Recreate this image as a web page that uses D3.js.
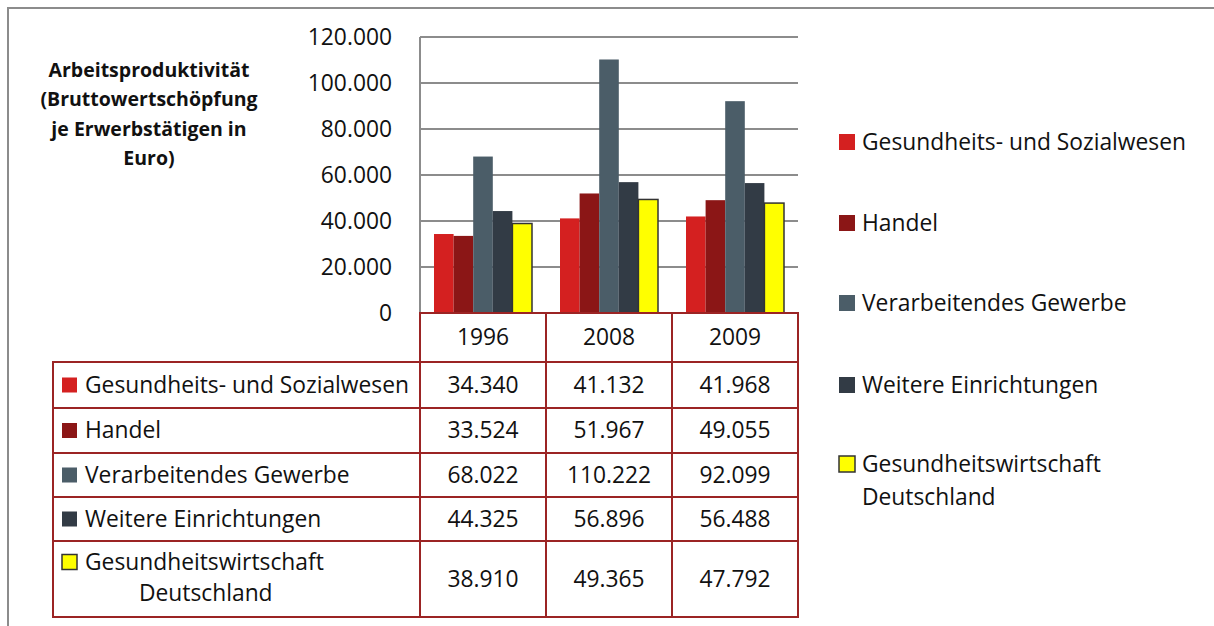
<!DOCTYPE html>
<html>
<head>
<meta charset="utf-8">
<script src="https://cdn.jsdelivr.net/npm/d3@7"></script>
<style>
  body { margin: 0; background: #fff; }
  text { font-family: "Open Sans", Lato, sans-serif; fill: #111; }
</style>
</head>
<body>
<div id="chart"></div>
<script>
// data
var years = ["1996", "2008", "2009"];
var seriesNames = ["Gesundheits- und Sozialwesen", "Handel", "Verarbeitendes Gewerbe",
                   "Weitere Einrichtungen", "Gesundheitswirtschaft Deutschland"];
var gesundheit = [34340, 41132, 41968];
var handel = [33524, 51967, 49055];
var verarbeitend = [68022, 110222, 92099];
var weitere = [44325, 56896, 56488];
var gwDeutschland = [38910, 49365, 47792];
var yTicks = [0, 20000, 40000, 60000, 80000, 100000, 120000];
var titleLines = ["Arbeitsproduktivität", "(Bruttowertschöpfung", "je Erwerbstätigen in", "Euro)"];

var values = [gesundheit, handel, verarbeitend, weitere, gwDeutschland];
var colors = ["#d42020", "#8b1616", "#4b5d68", "#323b45", "#ffff00"];
var strokes = [null, null, null, null, "#333"];

var W = 1214, H = 626;
var plot = {left: 420, right: 798, top: 37, bottom: 313};
var tableRed = "#9b2424";
var grid = "#8c8c8c";
var fs = 22.8;

var fmt = function(v) { return d3.format(",")(v).replace(/,/g, "."); };

var svg = d3.select("#chart").append("svg")
    .attr("width", W).attr("height", H);

// outer frame (only top and left visible)
svg.append("path")
    .attr("d", "M8,626 L8,8 L1214,8")
    .attr("fill", "none").attr("stroke", grid).attr("stroke-width", 2);

// scales
var x0 = d3.scaleBand().domain(years).range([plot.left, plot.right]);
var x1 = d3.scaleBand().domain(d3.range(seriesNames.length))
    .range([14, x0.bandwidth() - 14]);
var y = d3.scaleLinear().domain([0, 120000]).range([plot.bottom, plot.top]);

// gridlines
svg.append("g").selectAll("line").data(yTicks.filter(function(d) { return d > 0; }))
    .enter().append("line")
    .attr("x1", plot.left).attr("x2", plot.right)
    .attr("y1", function(d) { return y(d); }).attr("y2", function(d) { return y(d); })
    .attr("stroke", grid).attr("stroke-width", 2);

// y axis line
svg.append("line")
    .attr("x1", plot.left).attr("x2", plot.left)
    .attr("y1", plot.top).attr("y2", plot.bottom)
    .attr("stroke", grid).attr("stroke-width", 2);

// y tick labels
svg.append("g").selectAll("text").data(yTicks).enter().append("text")
    .attr("x", 392).attr("y", function(d) { return y(d); })
    .attr("dy", "0.35em").attr("text-anchor", "end")
    .attr("font-size", fs)
    .text(fmt);

// y title
svg.append("g").selectAll("text").data(titleLines).enter().append("text")
    .attr("x", 149).attr("y", function(d, i) { return 70 + i * 29.5; })
    .attr("dy", "0.35em")
    .attr("text-anchor", "middle").attr("font-size", 19.5).attr("font-weight", "bold")
    .text(function(d) { return d; });

// bars
var groups = svg.append("g").selectAll("g").data(years).enter().append("g")
    .attr("transform", function(d) { return "translate(" + x0(d) + ",0)"; });

groups.selectAll("rect")
    .data(function(d, yi) {
        return values.map(function(s, si) { return {si: si, v: s[yi]}; });
    })
    .enter().append("rect")
    .attr("x", function(d) { return x1(d.si); })
    .attr("width", x1.bandwidth())
    .attr("y", function(d) { return y(d.v); })
    .attr("height", function(d) { return plot.bottom - y(d.v); })
    .attr("fill", function(d) { return colors[d.si]; })
    .attr("stroke", function(d) { return strokes[d.si] || "none"; })
    .attr("stroke-width", 1.5);

// data table
var rowTops = [362, 408, 453, 497, 541];
var rowBottoms = [408, 453, 497, 541, 617];
var tableLeft = 53;
var tbl = svg.append("g");

// header row with years
tbl.append("rect")
    .attr("x", plot.left).attr("y", plot.bottom)
    .attr("width", plot.right - plot.left).attr("height", rowTops[0] - plot.bottom)
    .attr("fill", "none").attr("stroke", tableRed).attr("stroke-width", 2);
tbl.selectAll("text.year").data(years).enter().append("text")
    .attr("class", "year")
    .attr("x", function(d) { return x0(d) + x0.bandwidth() / 2; })
    .attr("y", (plot.bottom + rowTops[0]) / 2).attr("dy", "0.35em")
    .attr("text-anchor", "middle").attr("font-size", fs)
    .text(function(d) { return d; });

// row outlines
tbl.selectAll("rect.row").data(rowTops).enter().append("rect")
    .attr("class", "row")
    .attr("x", tableLeft).attr("y", function(d) { return d; })
    .attr("width", plot.right - tableLeft)
    .attr("height", function(d, i) { return rowBottoms[i] - d; })
    .attr("fill", "none").attr("stroke", tableRed).attr("stroke-width", 2);

// column lines
tbl.selectAll("line.col").data(years).enter().append("line")
    .attr("class", "col")
    .attr("x1", function(d) { return x0(d); }).attr("x2", function(d) { return x0(d); })
    .attr("y1", plot.bottom).attr("y2", rowBottoms[4])
    .attr("stroke", tableRed).attr("stroke-width", 2);

// row keys and labels
var rows = tbl.selectAll("g.rowlab").data(seriesNames).enter().append("g")
    .attr("class", "rowlab");
rows.append("rect")
    .attr("x", 62).attr("width", 15).attr("height", 15)
    .attr("y", function(d, i) { return (i < 4 ? (rowTops[i] + rowBottoms[i]) / 2 : 562) - 7.5; })
    .attr("fill", function(d, i) { return colors[i]; })
    .attr("stroke", function(d, i) { return strokes[i] || "none"; })
    .attr("stroke-width", 1.5);
rows.each(function(d, i) {
    var g = d3.select(this);
    if (i < 4) {
        g.append("text").attr("x", 85)
            .attr("y", (rowTops[i] + rowBottoms[i]) / 2).attr("dy", "0.35em")
            .attr("font-size", fs).text(d);
    } else {
        g.append("text").attr("x", 85).attr("y", 562).attr("dy", "0.35em")
            .attr("font-size", fs).text("Gesundheitswirtschaft");
        g.append("text").attr("x", 139).attr("y", 593).attr("dy", "0.35em")
            .attr("font-size", fs).text("Deutschland");
    }
});

// table values
values.forEach(function(s, si) {
    tbl.append("g").selectAll("text").data(s).enter().append("text")
        .attr("x", function(d, yi) { return x0(years[yi]) + x0.bandwidth() / 2; })
        .attr("y", (rowTops[si] + rowBottoms[si]) / 2).attr("dy", "0.35em")
        .attr("text-anchor", "middle").attr("font-size", fs)
        .text(fmt);
});

// legend right
var legY = [142, 223, 303, 385, 464];
var legend = svg.append("g").selectAll("g").data(seriesNames).enter().append("g")
    .attr("transform", function(d, i) { return "translate(839," + legY[i] + ")"; });
legend.append("rect")
    .attr("x", 0).attr("y", -8).attr("width", 16).attr("height", 16)
    .attr("fill", function(d, i) { return colors[i]; })
    .attr("stroke", function(d, i) { return strokes[i] || "none"; })
    .attr("stroke-width", 1.5);
legend.each(function(d, i) {
    var g = d3.select(this);
    if (i < 4) {
        g.append("text").attr("x", 23).attr("dy", "0.35em").attr("font-size", fs).text(d);
    } else {
        g.append("text").attr("x", 23).attr("dy", "0.35em").attr("font-size", fs).text("Gesundheitswirtschaft");
        g.append("text").attr("x", 23).attr("y", 33).attr("dy", "0.35em").attr("font-size", fs).text("Deutschland");
    }
});
</script>
</body>
</html>
